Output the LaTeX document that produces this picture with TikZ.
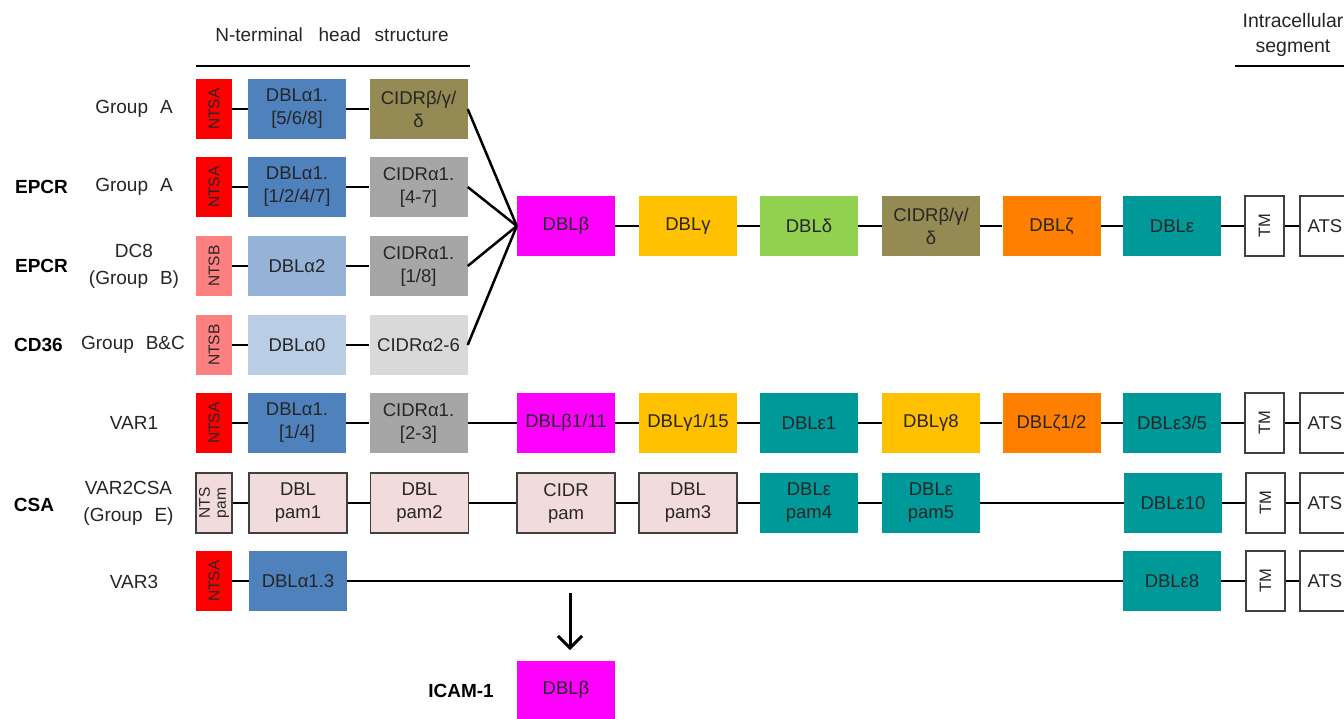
\documentclass[tikz,border=0pt]{standalone}
\usepackage{fontspec}
\setmainfont{Liberation Sans}
\usetikzlibrary{arrows.meta}
\definecolor{txt}{HTML}{262626}
\definecolor{ntsa}{HTML}{FF0000}
\definecolor{ntsb}{HTML}{FF8080}
\definecolor{dbla1}{HTML}{4F81BD}
\definecolor{dbla2}{HTML}{95B3D7}
\definecolor{dbla0}{HTML}{B9CDE5}
\definecolor{olive}{HTML}{948A54}
\definecolor{cidra}{HTML}{A6A6A6}
\definecolor{cidrl}{HTML}{D9D9D9}
\definecolor{mag}{HTML}{FF00FF}
\definecolor{dblg}{HTML}{FFC000}
\definecolor{dbld}{HTML}{92D050}
\definecolor{dblz}{HTML}{FF7F00}
\definecolor{teal2}{HTML}{009999}
\definecolor{pam}{HTML}{F2DCDB}
\definecolor{edge}{HTML}{404040}
\tikzset{
  box/.style={minimum width=98pt, minimum height=60pt, inner sep=0pt, align=center,
    text=txt, font=\fontsize{18.5}{23}\selectfont},
  ntsbox/.style={box, rotate=90, minimum width=60pt, minimum height=36pt,
    font=\fontsize{15.5}{16}\selectfont},
  tmbox/.style={box, rotate=90, minimum width=60pt, minimum height=39pt,
    draw=edge, line width=1.2pt, fill=white, font=\fontsize{16.5}{18}\selectfont},
  atsbox/.style={box, minimum width=50pt, draw=edge, line width=1.2pt, fill=white},
  pambox/.style={box, draw=edge, line width=1.2pt, fill=pam},
  lab/.style={text=txt, align=center, font=\fontsize{19}{27}\selectfont},
  blab/.style={text=black, font=\fontsize{19}{22}\selectfont\bfseries},
  conn/.style={line width=2.5pt, draw=black},
}
\begin{document}
\begin{tikzpicture}[x=1pt,y=1pt]
\fill[white] (0,0) rectangle (1344,-718);
\useasboundingbox (0,0) rectangle (1344,-718);

% headers
\node[lab] (hdr) at (332,-35) {N-terminal\hspace{0.55em} head\hspace{0.45em} structure};
\coordinate (hl1) at (196,-66); \coordinate (hl2) at (470,-66);
\draw[conn] (hl1) -- (hl2);
\node[lab, font=\fontsize{19.5}{25}\selectfont] (ihdr) at (1293,-35) {Intracellular\\segment};
\coordinate (il1) at (1235,-66); \coordinate (il2) at (1350,-66);
\draw[conn] (il1) -- (il2);

% left labels
\node[lab] (l1) at (134,-109) {Group\hspace{0.35em} A};
\node[blab] (ep1) at (41.5,-187) {EPCR};
\node[lab] (l2) at (134,-187) {Group\hspace{0.35em} A};
\node[blab] (ep2) at (41.5,-266) {EPCR};
\node[lab] (l3) at (134,-266) {DC8\\(Group\hspace{0.35em} B)};
\node[blab] (cd) at (38.5,-345) {CD36};
\node[lab] (l4) at (133,-345) {Group\hspace{0.35em} B\&C};
\node[lab] (l5) at (134,-423) {VAR1};
\node[blab] (csa) at (34,-505) {CSA};
\node[lab] (l6) at (128.5,-503) {VAR2CSA\\(Group\hspace{0.35em} E)};
\node[lab] (l7) at (134,-582) {VAR3};

% row 1
\node[ntsbox, fill=ntsa] (n1) at (214,-109) {NTSA};
\node[box, fill=dbla1] (a1) at (297,-109) {DBLα1.\\{[5/6/8]}};
\node[box, fill=olive] (c1) at (418.5,-109) {CIDRβ/γ/\\δ};
\draw[conn] (n1) -- (a1); \draw[conn] (a1) -- (c1);
% row 2
\node[ntsbox, fill=ntsa] (n2) at (214,-187) {NTSA};
\node[box, fill=dbla1] (a2) at (297,-187) {DBLα1.\\{[1/2/4/7]}};
\node[box, fill=cidra] (c2) at (418.5,-187) {CIDRα1.\\{[4-7]}};
\draw[conn] (n2) -- (a2); \draw[conn] (a2) -- (c2);
% row 3
\node[ntsbox, fill=ntsb] (n3) at (214,-266) {NTSB};
\node[box, fill=dbla2] (a3) at (297,-266) {DBLα2};
\node[box, fill=cidra] (c3) at (418.5,-266) {CIDRα1.\\{[1/8]}};
\draw[conn] (n3) -- (a3); \draw[conn] (a3) -- (c3);
% row 4
\node[ntsbox, fill=ntsb] (n4) at (214,-345) {NTSB};
\node[box, fill=dbla0] (a4) at (297,-345) {DBLα0};
\node[box, fill=cidrl] (c4) at (418.5,-345) {CIDRα2-6};
\draw[conn] (n4) -- (a4); \draw[conn] (a4) -- (c4);

% central row
\node[box, fill=mag] (b) at (566,-226) {DBLβ};
\node[box, fill=dblg] (g) at (688,-226) {DBLγ};
\node[box, fill=dbld] (d) at (809,-226) {DBLδ};
\node[box, fill=olive] (cd0) at (931,-226) {CIDRβ/γ/\\δ};
\node[box, fill=dblz] (z) at (1051.5,-226) {DBLζ};
\node[box, fill=teal2] (e) at (1172,-226) {DBLε};
\node[tmbox] (tm) at (1264.5,-226) {TM};
\node[atsbox] (ats) at (1325,-226) {ATS};
\draw[conn] (b) -- (g); \draw[conn] (g) -- (d); \draw[conn] (d) -- (cd0);
\draw[conn] (cd0) -- (z); \draw[conn] (z) -- (e); \draw[conn] (e) -- (tm);
\draw[conn] (tm) -- (ats);
% fan
\draw[conn] (c1.east) -- (b.west);
\draw[conn] (c2.east) -- (b.west);
\draw[conn] (c3.east) -- (b.west);
\draw[conn] (c4.east) -- (b.west);

% row 5 VAR1
\node[ntsbox, fill=ntsa] (n5) at (214,-423) {NTSA};
\node[box, fill=dbla1] (a5) at (297,-423) {DBLα1.\\{[1/4]}};
\node[box, fill=cidra] (c5) at (418.5,-423) {CIDRα1.\\{[2-3]}};
\node[box, fill=mag] (b5) at (566,-423) {DBLβ1/11};
\node[box, fill=dblg] (g5) at (688,-423) {DBLγ1/15};
\node[box, fill=teal2] (e5) at (809,-423) {DBLε1};
\node[box, fill=dblg] (y5) at (931,-423) {DBLγ8};
\node[box, fill=dblz] (z5) at (1051.5,-423) {DBLζ1/2};
\node[box, fill=teal2] (ee5) at (1172,-423) {DBLε3/5};
\node[tmbox] (tm5) at (1264.5,-423) {TM};
\node[atsbox] (ats5) at (1325,-423) {ATS};
\draw[conn] (n5) -- (a5); \draw[conn] (a5) -- (c5); \draw[conn] (c5) -- (b5);
\draw[conn] (b5) -- (g5); \draw[conn] (g5) -- (e5); \draw[conn] (e5) -- (y5);
\draw[conn] (y5) -- (z5); \draw[conn] (z5) -- (ee5); \draw[conn] (ee5) -- (tm5);
\draw[conn] (tm5) -- (ats5);

% row 6 VAR2CSA
\node[ntsbox, draw=edge, line width=1.2pt, fill=pam, font=\fontsize{15.5}{16}\selectfont] (n6) at (214,-503) {NTS\\pam};
\node[pambox] (p1) at (298,-503) {DBL\\pam1};
\node[pambox] (p2) at (419.5,-503) {DBL\\pam2};
\node[pambox] (cp) at (566,-503) {CIDR\\pam};
\node[pambox] (p3) at (688,-503) {DBL\\pam3};
\node[box, fill=teal2] (p4) at (809,-503) {DBLε\\pam4};
\node[box, fill=teal2] (p5) at (931,-503) {DBLε\\pam5};
\node[box, fill=teal2] (e10) at (1173,-503) {DBLε10};
\node[tmbox] (tm6) at (1265.5,-503) {TM};
\node[atsbox] (ats6) at (1325,-503) {ATS};
\draw[conn] (n6) -- (p1); \draw[conn] (p1) -- (p2); \draw[conn] (p2) -- (cp);
\draw[conn] (cp) -- (p3); \draw[conn] (p3) -- (p4); \draw[conn] (p4) -- (p5);
\draw[conn] (p5) -- (e10); \draw[conn] (e10) -- (tm6); \draw[conn] (tm6) -- (ats6);

% row 7 VAR3
\node[ntsbox, fill=ntsa] (n7) at (214,-581) {NTSA};
\node[box, fill=dbla1] (a7) at (298,-581) {DBLα1.3};
\node[box, fill=teal2] (e8) at (1172,-581) {DBLε8};
\node[tmbox] (tm7) at (1265.5,-581) {TM};
\node[atsbox] (ats7) at (1325,-581) {ATS};
\draw[conn] (n7) -- (a7); \draw[conn] (a7) -- (e8); \draw[conn] (e8) -- (tm7);
\draw[conn] (tm7) -- (ats7);

% ICAM-1
\coordinate (ar1) at (570,-593);
\coordinate (ar2) at (570,-650);
\draw[line width=3pt, -{Straight Barb[length=12pt,width=24pt,line width=3pt]}] (ar1) -- (ar2);
\node[box, fill=mag, minimum height=58pt] (bi) at (566,-690) {DBLβ};
\node[blab] (icam) at (461,-691) {ICAM-1};
\end{tikzpicture}
\end{document}
